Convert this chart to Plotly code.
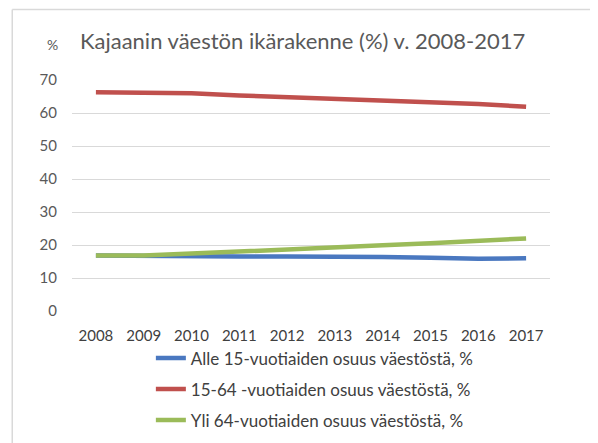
import plotly.graph_objects as go

years = [2008, 2009, 2010, 2011, 2012, 2013, 2014, 2015, 2016, 2017]
alle15 = [16.8, 16.6, 16.5, 16.5, 16.5, 16.5, 16.4, 16.1, 15.8, 16.0]
v15_64 = [66.3, 66.2, 66.0, 65.3, 64.8, 64.3, 63.8, 63.3, 62.7, 61.9]
yli64 = [16.8, 16.8, 17.4, 18.1, 18.7, 19.3, 19.9, 20.5, 21.3, 22.0]
names = ["Alle 15-vuotiaiden osuus väestöstä, %",
         "15-64 -vuotiaiden osuus väestöstä, %",
         "Yli 64-vuotiaiden osuus väestöstä, %"]
colors = ["#4a78c0", "#c0504d", "#9bbb59"]
y_ticks = [0, 10, 20, 30, 40, 50, 60, 70]

FONT = "Lato, Open Sans, sans-serif"
fig = go.Figure()
for i, (vals, name, col) in enumerate(zip([alle15, v15_64, yli64], names, colors)):
    fig.add_trace(go.Scatter(x=years, y=vals, name=name, mode="lines",
                             legendgroup="g%d" % i,
                             line=dict(color=col, width=4.5)))

# page body has an 8px margin, so the figure is 8px smaller and shifted
fig.update_layout(
    width=590, height=435,
    margin=dict(l=64, r=48, t=72, b=132, autoexpand=False),
    paper_bgcolor="white", plot_bgcolor="white",
    font=dict(family=FONT, color="#595959", size=14),
    showlegend=True,
    legend=dict(x=0.165, y=0.236, xanchor="left", yanchor="top",
                yref="container",
                orientation="v", font=dict(size=17, color="#404040"),
                tracegroupgap=6, itemwidth=30, traceorder="grouped",
                bgcolor="rgba(0,0,0,0)"),
    xaxis=dict(range=[2007.5, 2017.5], tickmode="array", tickvals=years,
               ticktext=[str(y) for y in years], showgrid=False,
               zeroline=False, showline=False, ticks="",
               ticklabelstandoff=14,
               tickfont=dict(size=15, color="#404040")),
    yaxis=dict(range=[0, 70], tickmode="array", tickvals=y_ticks,
               showgrid=True, gridcolor="#d9d9d9", gridwidth=1,
               zeroline=False, showline=False, ticks="",
               ticklabelstandoff=14,
               tickfont=dict(size=15, color="#595959")),
)
fig.add_annotation(text="Kajaanin väestön ikärakenne (%) v. 2008-2017",
                   xref="paper", yref="paper", x=0.012, y=1.17,
                   xanchor="left", yanchor="middle", showarrow=False,
                   font=dict(size=22, color="#595959", family=FONT))
fig.add_annotation(text="%", xref="paper", yref="paper", x=-0.04, y=1.155,
                   xanchor="center", yanchor="middle", showarrow=False,
                   font=dict(size=14, color="#595959", family=FONT))
fig.add_shape(type="line", xref="paper", yref="paper",
              x0=-0.125, x1=1.2, y0=1.305, y1=1.305,
              line=dict(color="#d9d9d9", width=1.5))
fig.add_shape(type="line", xref="paper", yref="paper",
              x0=-0.125, x1=-0.125, y0=1.305, y1=-0.6,
              line=dict(color="#d9d9d9", width=1.5))

fig.write_html("out.html")
